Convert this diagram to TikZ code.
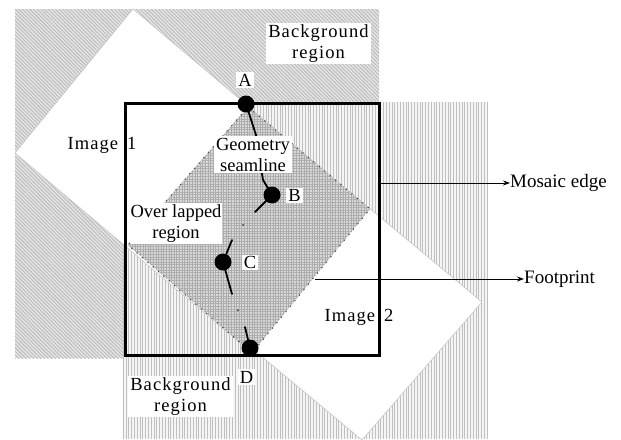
\documentclass[tikz,border=0pt]{standalone}
\usepackage{fontspec}
\setmainfont{Liberation Serif}
\newfontfamily\spacedfont[LetterSpace=6]{Liberation Serif}
\usetikzlibrary{patterns.meta,arrows.meta}
\tikzset{
  lbl/.style={fill=white, inner xsep=2pt, inner ysep=1.5pt, align=center, font=\fontsize{18.5}{21}\selectfont},
  slbl/.style={lbl, font=\fontsize{18.5}{21}\spacedfont},
  plain/.style={inner sep=0pt, font=\fontsize{19}{21}\selectfont},
  splain/.style={inner sep=0pt, font=\fontsize{18.5}{21}\spacedfont},
  bigdot/.style={circle, fill=black, minimum size=17pt, inner sep=0pt},
  seam/.style={line width=1.8pt, line cap=round},
  imgedge/.style={draw=gray!45, line width=0.6pt, fill=white},
  arr/.style={line width=0.9pt, -{Stealth[length=7pt,width=5pt]}},
  mosaic/.style={line width=3pt, line join=miter},
}
\begin{document}
\begin{tikzpicture}[x=1pt,y=-1pt]
\useasboundingbox (0,0) rectangle (621,439);
% corner points
\coordinate (bgA1) at (15,9);   \coordinate (bgA2) at (379,358);
\coordinate (bgB1) at (123,102); \coordinate (bgB2) at (488,438);
\coordinate (L1) at (15,153);  \coordinate (T1) at (133,9);
\coordinate (R1) at (370,209); \coordinate (B1) at (252,353);
\coordinate (L2) at (128,245); \coordinate (T2) at (248,107);
\coordinate (R2) at (482,302); \coordinate (B2) at (362,440);
% background regions
\fill[gray!20] (bgA1) rectangle (bgA2);
\fill[pattern={Lines[angle=-45,distance=2.6pt,line width=0.9pt]}, pattern color=gray!55] (bgA1) rectangle (bgA2);
\fill[gray!8] (bgB1) rectangle (bgB2);
\fill[pattern={Lines[angle=90,distance=2.8pt,line width=0.8pt]}, pattern color=gray!50] (bgB1) rectangle (bgB2);
% images
\path[imgedge] (L1) -- (T1) -- (R1) -- (B1) -- cycle;
\path[imgedge] (L2) -- (T2) -- (R2) -- (B2) -- cycle;
% overlapped region
\fill[gray!30] (T2) -- (R1) -- (B1) -- (L2) -- cycle;
\fill[pattern={Hatch[angle=0,distance=2.6pt,line width=0.7pt]}, pattern color=gray!65] (T2) -- (R1) -- (B1) -- (L2) -- cycle;
\draw[gray!50!black, line width=1.1pt, dash pattern=on 1.1pt off 6pt] (T2) -- (R1) -- (B1) -- (L2) -- cycle;
% mosaic edge
\draw[mosaic] (125,103) rectangle (379,355);
\coordinate (me) at (379,183);
\coordinate (fp) at (315,279);
% seamline points
\node[bigdot] (A) at (246,104) {};
\node[bigdot] (B) at (272,195) {};
\node[bigdot] (C) at (223,262) {};
\node[bigdot] (D) at (250,348) {};
\coordinate (s1) at (256,135);
\coordinate (s2) at (263,180);
\coordinate (s3) at (255,212);
\coordinate (s4) at (232,240);
\coordinate (s5) at (232,294);
\coordinate (s6) at (245,327);
\draw[seam] (A.center) -- (s1) -- (s2) -- (B.center) -- (s3);
\draw[seam] (s4) -- (C.center) -- (s5);
\draw[seam] (s6) -- (D.center);
\fill[black!80] (243,225) circle (1pt);
\fill[black!80] (238,310) circle (1pt);
% labels
\node[slbl] (bgtop) at (318.5,43.5) {Background\\region};
\node[lbl] (lA) at (245,80) {A};
\node[splain, fill=white, inner sep=1pt] (im1) at (102,145) {Image\hspace{9pt}1};
\node[lbl] (geo) at (253,154.5) {Geometry\\seamline};
\node[lbl] (lB) at (294.5,195.5) {B};
\node[lbl, inner xsep=1pt] (ovl) at (176,223.5) {Over lapped\\region};
\node[lbl] (lC) at (250,262.5) {C};
\node[lbl] (lD) at (246.5,377) {D};
\node[slbl] (bgbot) at (180.5,396.5) {Background\\region};
\node[splain] (im2) at (359,317) {Image\hspace{9pt}2};
% redraw mosaic line over image texts
\draw[mosaic] (125,103) rectangle (379,355);
% arrows
\node[plain, anchor=west] (met) at (510,183) {Mosaic edge};
\node[plain, anchor=west] (fpt) at (524,279) {Footprint};
\draw[arr] (me) -- (met.west);
\draw[arr] (fp) -- (fpt.west);
\end{tikzpicture}
\end{document}
